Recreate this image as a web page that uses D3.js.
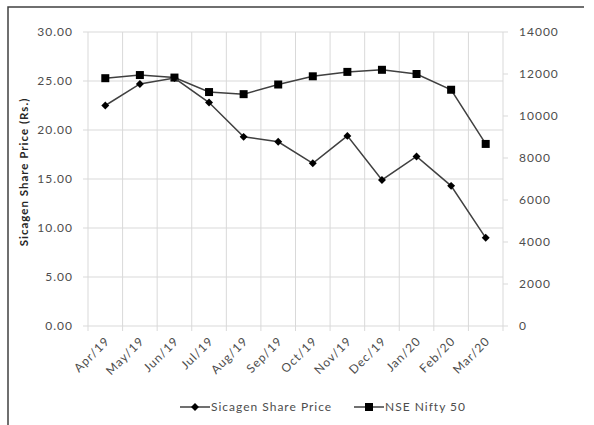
<!DOCTYPE html>
<html>
<head>
<meta charset="utf-8">
<script src="https://cdn.jsdelivr.net/npm/d3@7"></script>
<style>
  body { margin: 0; background: #fff; }
  text { font-family: Lato, "Open Sans", sans-serif; letter-spacing: 1px; }
</style>
</head>
<body>
<div id="chart"></div>
<script>
const months = ["Apr/19","May/19","Jun/19","Jul/19","Aug/19","Sep/19","Oct/19","Nov/19","Dec/19","Jan/20","Feb/20","Mar/20"];
const sicagen = [22.5, 24.7, 25.3, 22.8, 19.3, 18.8, 16.6, 19.4, 14.9, 17.3, 14.3, 9.0];
const nifty = [11800, 11950, 11830, 11140, 11040, 11500, 11890, 12100, 12200, 12000, 11250, 8670];
const leftTicks = [0, 5, 10, 15, 20, 25, 30];
const rightTicks = [0, 2000, 4000, 6000, 8000, 10000, 12000, 14000];

const W = 594, H = 425;
const margin = {top: 32, right: 91, bottom: 99, left: 88};
const width = W - margin.left - margin.right,
      height = H - margin.top - margin.bottom;

const root = d3.select("#chart").append("svg")
  .attr("width", W).attr("height", H);

// outer frame (top + left edges visible)
root.append("path")
  .attr("d", "M8,425V7H584")
  .attr("fill", "none").attr("stroke", "#404040").attr("stroke-width", 1.5);

const svg = root.append("g")
  .attr("transform", `translate(${margin.left},${margin.top})`);

const x = d3.scaleBand().domain(months).range([0, width]);
const yL = d3.scaleLinear().domain([0, 30]).range([height, 0]);
const yR = d3.scaleLinear().domain([0, 14000]).range([height, 0]);

const grid = "#d9d9d9", txt = "#4d4d4d";

// horizontal grid
svg.append("g").selectAll("line").data(leftTicks.slice(1)).join("line")
  .attr("x1", 0).attr("x2", width)
  .attr("y1", d => yL(d)).attr("y2", d => yL(d))
  .attr("stroke", grid);

// vertical grid at category boundaries
svg.append("g").selectAll("line").data(months.slice(1)).join("line")
  .attr("x1", d => x(d)).attr("x2", d => x(d))
  .attr("y1", 0).attr("y2", height)
  .attr("stroke", grid);

// x axis
const xAxis = svg.append("g").attr("transform", `translate(0,${height})`);
xAxis.append("line").attr("x1", 0).attr("x2", width).attr("stroke", grid);
xAxis.selectAll(".tk").data(months.concat(["end"])).join("line")
  .attr("class", "tk")
  .attr("x1", (d, i) => i * x.bandwidth()).attr("x2", (d, i) => i * x.bandwidth())
  .attr("y1", 0).attr("y2", 5).attr("stroke", grid);
xAxis.selectAll("text").data(months).join("text")
  .attr("transform", d => `translate(${x(d) + x.bandwidth() / 2 + 2},${13}) rotate(-45)`)
  .attr("text-anchor", "end").attr("dy", "0.35em")
  .attr("font-size", 12).attr("fill", txt)
  .text(d => d);

// left axis
const lAxis = svg.append("g");
lAxis.append("line").attr("y1", 0).attr("y2", height).attr("stroke", grid);
lAxis.selectAll("line.tk").data(leftTicks).join("line").attr("class", "tk")
  .attr("x1", -5).attr("x2", 0).attr("y1", d => yL(d)).attr("y2", d => yL(d)).attr("stroke", grid);
lAxis.selectAll("text").data(leftTicks).join("text")
  .attr("x", -15).attr("y", d => yL(d)).attr("dy", "0.35em")
  .attr("text-anchor", "end").attr("font-size", 12).attr("fill", txt)
  .text(d => d3.format(".2f")(d));

// right axis
const rAxis = svg.append("g").attr("transform", `translate(${width},0)`);
rAxis.append("line").attr("y1", 0).attr("y2", height).attr("stroke", grid);
rAxis.selectAll("line.tk").data(rightTicks).join("line").attr("class", "tk")
  .attr("x1", 0).attr("x2", 5).attr("y1", d => yR(d)).attr("y2", d => yR(d)).attr("stroke", grid);
rAxis.selectAll("text").data(rightTicks).join("text")
  .attr("x", 16).attr("y", d => yR(d)).attr("dy", "0.35em")
  .attr("text-anchor", "start").attr("font-size", 12).attr("fill", txt)
  .text(d => d);

// y title
root.append("text")
  .attr("transform", `translate(28,${margin.top + height / 2 - 7}) rotate(-90)`)
  .attr("text-anchor", "middle").attr("font-size", 11.5).attr("font-weight", "bold")
  .attr("letter-spacing", 0.2)
  .attr("fill", "#262626")
  .text("Sicagen  Share Price (Rs.)");

const cx = d => x(d) + x.bandwidth() / 2;
const lineCol = "#404040";

// Nifty series
svg.append("path").datum(nifty)
  .attr("fill", "none").attr("stroke", lineCol).attr("stroke-width", 1.5)
  .attr("d", d3.line().x((d, i) => cx(months[i])).y(d => yR(d)));
svg.append("g").selectAll("rect").data(nifty).join("rect")
  .attr("x", (d, i) => cx(months[i]) - 4).attr("y", d => yR(d) - 4)
  .attr("width", 8).attr("height", 8).attr("fill", "#000");

// Sicagen series
svg.append("path").datum(sicagen)
  .attr("fill", "none").attr("stroke", lineCol).attr("stroke-width", 1.5)
  .attr("d", d3.line().x((d, i) => cx(months[i])).y(d => yL(d)));
svg.append("g").selectAll("rect").data(sicagen).join("rect")
  .attr("transform", (d, i) => `translate(${cx(months[i])},${yL(d)}) rotate(45)`)
  .attr("x", -2.8).attr("y", -2.8).attr("width", 5.6).attr("height", 5.6).attr("fill", "#000");

// legend
const legend = root.append("g").attr("transform", "translate(0,407)");
const items = [
  {name: "Sicagen Share Price", x: 180, marker: "diamond"},
  {name: "NSE Nifty 50", x: 354, marker: "square"}
];
items.forEach(it => {
  const g = legend.append("g").attr("transform", `translate(${it.x},0)`);
  g.append("line").attr("x1", 0).attr("x2", 30).attr("stroke", lineCol).attr("stroke-width", 1.5);
  if (it.marker === "diamond") {
    g.append("rect").attr("transform", "translate(15,0) rotate(45)")
      .attr("x", -2.8).attr("y", -2.8).attr("width", 5.6).attr("height", 5.6).attr("fill", "#000");
  } else {
    g.append("rect").attr("x", 11).attr("y", -4).attr("width", 8).attr("height", 8).attr("fill", "#000");
  }
  g.append("text").attr("x", 31).attr("dy", "0.35em")
    .attr("font-size", 12).attr("fill", txt).text(it.name);
});
</script>
</body>
</html>
